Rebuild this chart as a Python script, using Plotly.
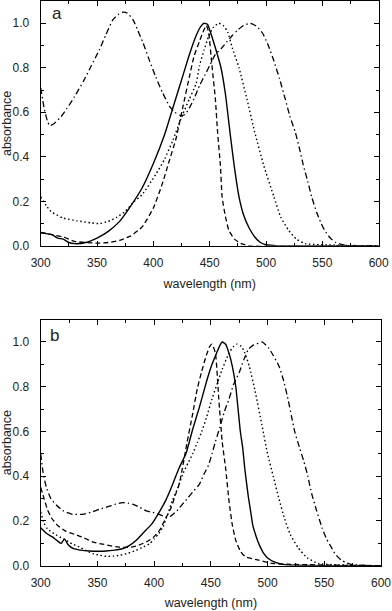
import plotly.graph_objects as go

# ---------------- data (panel a) ----------------
solid_a_x = [300, 305, 310, 315, 320, 325, 330, 340, 350, 360, 370, 380, 390, 400, 410, 417, 425, 432, 438, 442, 445, 448, 450, 455, 460, 464, 468, 472, 476, 480, 485, 490, 495, 500, 510, 600]
solid_a_y = [0.06, 0.055, 0.05, 0.035, 0.03, 0.015, 0.01, 0.015, 0.035, 0.065, 0.11, 0.18, 0.26, 0.37, 0.50, 0.615, 0.745, 0.86, 0.945, 0.985, 1.0, 0.995, 0.97, 0.89, 0.80, 0.68, 0.51, 0.35, 0.22, 0.14, 0.08, 0.04, 0.015, 0.005, 0.0, 0.0]

dashed_a_x = [300, 305, 310, 320, 330, 340, 350, 360, 370, 380, 390, 400, 408, 414, 420, 426, 432, 436, 441, 444, 447, 449, 452, 455, 457, 459.5, 461, 464, 467, 472, 478, 485, 600]
dashed_a_y = [0.06, 0.055, 0.05, 0.04, 0.02, 0.015, 0.012, 0.015, 0.025, 0.045, 0.085, 0.17, 0.28, 0.38, 0.48, 0.62, 0.76, 0.85, 0.92, 0.96, 0.99, 0.96, 0.81, 0.66, 0.51, 0.36, 0.22, 0.13, 0.07, 0.03, 0.01, 0.0, 0.0]

dotted_a_x = [300, 305, 310, 314, 320, 332, 345, 352, 360, 367, 375, 382, 390, 402, 410, 417, 426, 432, 438, 441, 445, 449, 453, 458, 462, 466, 470, 476, 483, 490, 498, 507, 513, 520, 527, 535, 600]
dotted_a_y = [0.22, 0.18, 0.15, 0.14, 0.125, 0.113, 0.103, 0.10, 0.11, 0.127, 0.155, 0.195, 0.23, 0.32, 0.39, 0.47, 0.59, 0.66, 0.73, 0.81, 0.88, 0.94, 0.98, 1.0, 0.99, 0.96, 0.89, 0.80, 0.66, 0.51, 0.36, 0.22, 0.13, 0.07, 0.03, 0.01, 0.0]

dashdot_a_x = [300, 303, 306, 308, 312, 318, 323, 330, 338, 345, 352, 358, 364, 369, 373, 377, 382, 386, 391, 396, 402, 408, 414, 419, 424, 428, 432, 436, 441, 446, 450, 455, 460, 465, 470, 475, 480, 486, 492, 497, 502, 507, 512, 517, 521, 526, 530, 533, 537, 540.5, 545, 549, 552, 557, 562, 568, 575, 600]
dashdot_a_y = [0.71, 0.62, 0.56, 0.54, 0.55, 0.58, 0.615, 0.67, 0.74, 0.81, 0.88, 0.95, 1.015, 1.04, 1.05, 1.045, 1.015, 0.97, 0.91, 0.84, 0.76, 0.69, 0.63, 0.60, 0.586, 0.59, 0.62, 0.66, 0.72, 0.77, 0.81, 0.86, 0.885, 0.915, 0.945, 0.97, 0.99, 1.0, 0.985, 0.955, 0.90, 0.83, 0.75, 0.66, 0.585, 0.51, 0.43, 0.364, 0.29, 0.22, 0.15, 0.10, 0.07, 0.035, 0.015, 0.005, 0.0, 0.0]

# ---------------- data (panel b) ----------------
solid_b_x = [300, 305, 310, 315, 318, 321, 324, 329, 335, 343, 350, 358, 365, 372, 378, 384, 391, 398, 404, 410, 416, 422, 428, 434, 440, 446, 451, 455, 458, 460, 463, 466, 469, 472, 474, 476, 478, 480, 483, 485.5, 487, 490, 493, 496, 500, 507, 515, 600]
solid_b_y = [0.17, 0.145, 0.13, 0.11, 0.10, 0.12, 0.095, 0.076, 0.07, 0.066, 0.065, 0.066, 0.07, 0.076, 0.09, 0.113, 0.15, 0.187, 0.235, 0.29, 0.36, 0.437, 0.50, 0.61, 0.71, 0.82, 0.90, 0.95, 0.985, 1.0, 0.99, 0.95, 0.89, 0.80, 0.70, 0.60, 0.53, 0.43, 0.31, 0.23, 0.18, 0.13, 0.09, 0.06, 0.035, 0.015, 0.005, 0.0]

dashed_b_x = [300, 303, 306, 310, 315, 322, 330, 338, 346, 356, 366, 375, 381, 387, 393, 399, 405, 410, 415, 419, 422, 425, 429, 434, 438, 442, 446, 449, 451, 454, 457, 460, 463, 466, 469, 472, 476, 480.5, 492, 505, 600]
dashed_b_y = [0.35, 0.30, 0.25, 0.21, 0.18, 0.155, 0.14, 0.125, 0.106, 0.095, 0.085, 0.082, 0.084, 0.093, 0.106, 0.125, 0.16, 0.21, 0.26, 0.32, 0.363, 0.437, 0.55, 0.68, 0.79, 0.87, 0.94, 0.98, 0.99, 0.95, 0.745, 0.554, 0.437, 0.29, 0.18, 0.113, 0.065, 0.04, 0.025, 0.01, 0.0]

dotted_b_x = [300, 303, 306, 312, 320, 328, 334, 340, 346, 352, 358, 364, 370, 377, 384, 390, 396, 400, 404, 408, 412, 416, 421, 425, 430, 434, 438, 442, 446, 451, 456, 460, 466, 470, 473, 477, 480, 484, 489, 495, 500, 505, 510, 515, 520, 527, 535, 545, 600]
dotted_b_y = [0.24, 0.19, 0.165, 0.143, 0.12, 0.097, 0.084, 0.068, 0.054, 0.047, 0.042, 0.043, 0.047, 0.056, 0.069, 0.083, 0.098, 0.12, 0.143, 0.175, 0.23, 0.29, 0.35, 0.407, 0.46, 0.50, 0.55, 0.60, 0.66, 0.745, 0.82, 0.878, 0.95, 0.98, 0.99, 0.98, 0.95, 0.89, 0.78, 0.63, 0.50, 0.40, 0.30, 0.21, 0.14, 0.08, 0.035, 0.01, 0.0]

dashdot_b_x = [300, 302, 305, 309, 314, 320, 328, 337, 345, 352, 360, 366, 372, 377, 381, 387, 393, 399, 405, 410, 414, 420, 425, 430, 435, 440, 444, 448, 451, 454, 458, 462, 466, 470, 475, 479, 483, 487, 490, 495, 501, 505, 510, 514, 518, 521, 524, 528, 532, 535, 539, 543, 548, 552, 556, 560, 565, 570, 575, 600]
dashdot_b_y = [0.50, 0.42, 0.35, 0.30, 0.27, 0.245, 0.23, 0.23, 0.24, 0.253, 0.265, 0.275, 0.282, 0.28, 0.275, 0.262, 0.245, 0.238, 0.228, 0.218, 0.22, 0.245, 0.275, 0.305, 0.335, 0.365, 0.41, 0.45, 0.50, 0.554, 0.62, 0.69, 0.745, 0.81, 0.863, 0.92, 0.966, 0.985, 0.99, 1.0, 0.973, 0.94, 0.893, 0.83, 0.745, 0.67, 0.598, 0.53, 0.466, 0.41, 0.32, 0.25, 0.17, 0.12, 0.084, 0.05, 0.025, 0.012, 0.005, 0.0]

x_ticks = [300, 350, 400, 450, 500, 550, 600]
y_ticks = [0.0, 0.2, 0.4, 0.6, 0.8, 1.0]
panel_labels = ["a", "b"]

# ---------------- styles ----------------
W, H = 392, 611
FONT = "Liberation Sans, Arial, sans-serif"
styles = {
    "solid": dict(color="black", width=1.4, dash="solid"),
    "dashed": dict(color="black", width=1.3, dash="5px,3px"),
    "dotted": dict(color="black", width=1.4, dash="1.5px,2.6px"),
    "dashdot": dict(color="black", width=1.3, dash="6px,3px,1.5px,3px"),
}

fig = go.Figure()

panels = [
    ("x", "y", [(solid_a_x, solid_a_y, "solid"), (dashed_a_x, dashed_a_y, "dashed"),
                (dotted_a_x, dotted_a_y, "dotted"), (dashdot_a_x, dashdot_a_y, "dashdot")]),
    ("x2", "y2", [(solid_b_x, solid_b_y, "solid"), (dashed_b_x, dashed_b_y, "dashed"),
                  (dotted_b_x, dotted_b_y, "dotted"), (dashdot_b_x, dashdot_b_y, "dashdot")]),
]
for xa, ya, curves in panels:
    for xs, ys, st in curves:
        fig.add_trace(go.Scatter(x=xs, y=ys, mode="lines", line=dict(**styles[st], shape="spline", smoothing=0.5),
                                 xaxis=xa, yaxis=ya, showlegend=False, hoverinfo="skip"))

ML, MR, MT, MB = 40, 8, 0, 0
pw, ph = W - ML - MR, H - MT - MB

def xdom(left_px, right_px):
    return [(left_px - ML) / pw, (right_px - ML) / pw]

def ydom(top_px, bottom_px):
    return [1 - (bottom_px - MT) / ph, 1 - (top_px - MT) / ph]

common_x = dict(range=[300, 600], tickmode="array", tickvals=x_ticks, ticks="inside", ticklen=5,
                tickwidth=1, tickcolor="black", showline=True, linecolor="black", linewidth=1.2,
                mirror="ticks", showgrid=False, zeroline=False, ticklabeloverflow="allow",
                minor=dict(tickvals=[325, 375, 425, 475, 525, 575], ticks="inside", ticklen=3, tickcolor="black", tickwidth=1),
                tickfont=dict(family=FONT, size=12, color="#222"), ticklabelstandoff=6,
                title=dict(text="wavelength (nm)", font=dict(family=FONT, size=12.5, color="#222"), standoff=9))
common_y = dict(range=[0, 1.1], tickmode="array", tickvals=y_ticks, ticktext=[f"{v:.1f}" for v in y_ticks],
                ticks="inside", ticklen=5, tickwidth=1, tickcolor="black", showline=True, linecolor="black",
                linewidth=1.2, mirror="ticks", showgrid=False, zeroline=False, ticklabeloverflow="allow",
                minor=dict(tickvals=[0.1, 0.3, 0.5, 0.7, 0.9], ticks="inside", ticklen=3, tickcolor="black", tickwidth=1),
                tickfont=dict(family=FONT, size=12, color="#222"), ticklabelstandoff=8,
                title=dict(text="absorbance", font=dict(family=FONT, size=12.5, color="#222"), standoff=0))

fig.update_layout(
    width=W, height=H, margin=dict(l=ML, r=MR, t=MT, b=MB),
    paper_bgcolor="white", plot_bgcolor="white",
    xaxis=dict(common_x, domain=xdom(40.7, 380.7), anchor="y"),
    yaxis=dict(common_y, domain=ydom(1.0, 248.7), anchor="x"),
    xaxis2=dict(common_x, domain=xdom(40.7, 383), anchor="y2"),
    yaxis2=dict(common_y, domain=ydom(323.3, 572.3), anchor="x2"),
    annotations=[
        dict(text=panel_labels[0], x=314.5, y=1.045, xref="x", yref="y", showarrow=False,
             font=dict(family=FONT, size=17, color="#222")),
        dict(text=panel_labels[1], x=312.5, y=1.03, xref="x2", yref="y2", showarrow=False,
             font=dict(family=FONT, size=17, color="#222")),
    ],
)

# the page's default body margin would shift the figure by 8px; remove it
fig.write_html("out.html", config={"displayModeBar": False},
               post_script="document.body.style.margin='0px';document.body.style.overflow='hidden';")
